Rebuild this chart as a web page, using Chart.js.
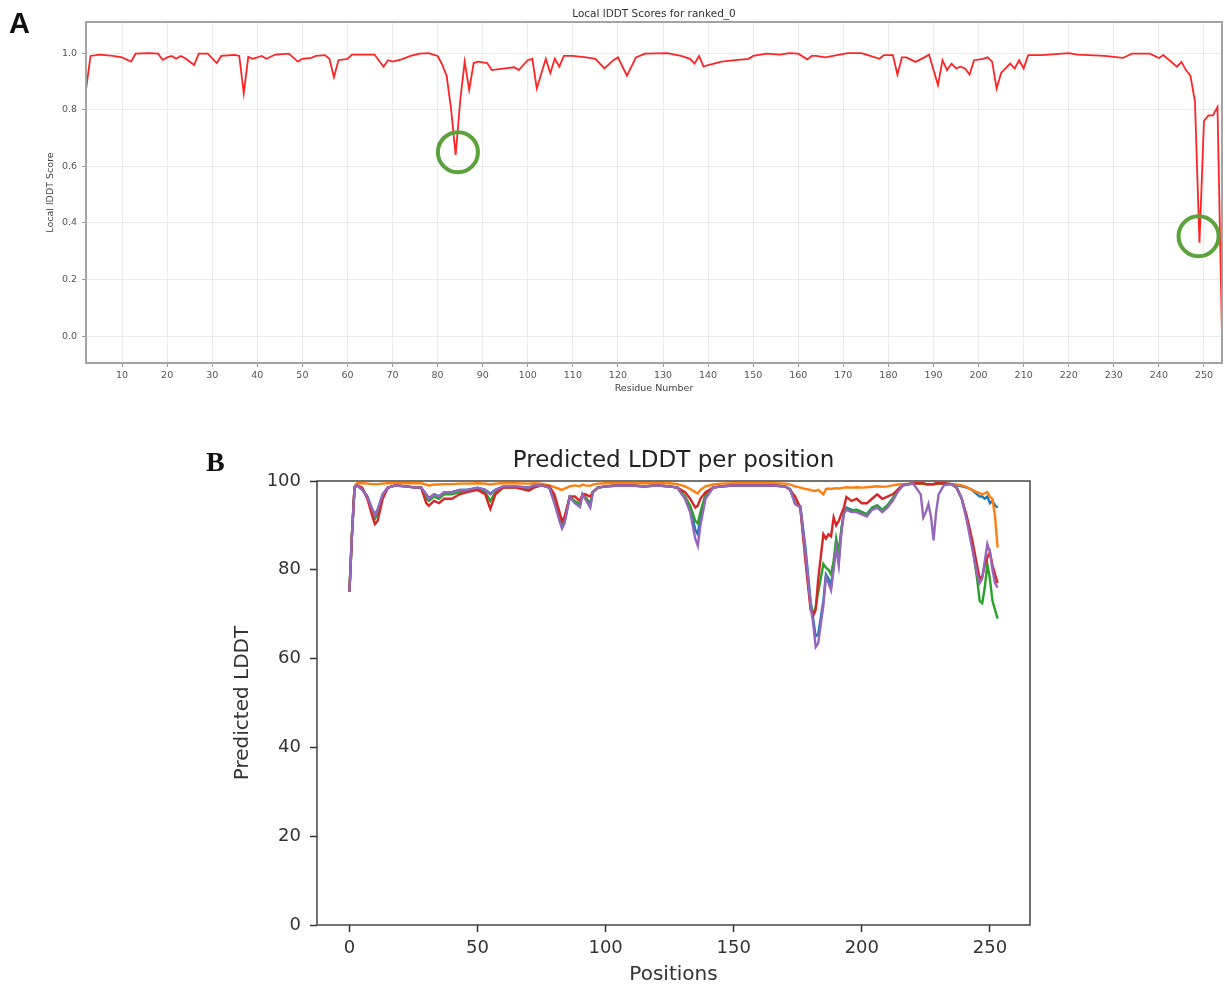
<!DOCTYPE html>
<html>
<head>
<meta charset="utf-8">
<script src="https://cdn.jsdelivr.net/npm/chart.js@4.4.1/dist/chart.umd.min.js"></script>
<style>
  body{margin:0;background:#fff;width:1225px;height:987px;position:relative;overflow:hidden}
  canvas{position:absolute}
  .tag{position:absolute;font-weight:bold;line-height:1;color:#111}
</style>
</head>
<body>
<canvas id="chartA" width="1250" height="404" style="left:0;top:-4px"></canvas>
<canvas id="chartB" width="860" height="547" style="left:200px;top:440px"></canvas>
<div class="tag" style="left:9px;top:9px;font-family:'Liberation Sans';font-size:29px">A</div>
<div class="tag" style="left:206px;top:448px;font-family:'Liberation Serif';font-size:28px">B</div>
<script>
// panel A: local lDDT of ranked_0
const residuesA = [
  2,3,5,8,10,12,13,16,18,19,
  20,21,22,23,24,26,27,29,31,32,
  35,36,37,38,39,41,42,44,47,49,
  50,52,53,55,56,57,58,60,61,66,
  68,69,70,72,74,76,78,80,81,82,
  83,84,85,86,87,88,89,91,92,95,
  97,98,99,100,101,102,104,105,106,107,
  108,110,113,115,117,119,120,122,124,126,
  131,134,136,137,138,139,140,143,146,149,
  150,153,156,158,160,162,163,164,166,171,
  174,176,178,179,181,182,183,184,186,188,
  189,191,192,193,194,195,196,197,198,199,
  201,202,203,204,205,207,208,209,210,211,
  214,220,222,228,232,234,238,240,241,244,
  245,246,247,248,249,250,251,252,253,254
]
const scoresA = [
  0.87,0.99,0.995,0.99,0.985,0.97,0.998,1.0,0.998,0.976,
  0.985,0.99,0.98,0.99,0.982,0.958,0.998,0.998,0.965,0.99,
  0.994,0.99,0.858,0.987,0.98,0.99,0.98,0.995,0.998,0.97,
  0.98,0.983,0.99,0.993,0.98,0.915,0.975,0.98,0.995,0.995,
  0.952,0.975,0.97,0.978,0.99,0.998,1.0,0.99,0.96,0.92,
  0.80,0.64,0.83,0.97,0.87,0.965,0.97,0.965,0.94,0.946,
  0.95,0.94,0.958,0.975,0.98,0.875,0.98,0.93,0.98,0.952,
  0.99,0.99,0.985,0.98,0.946,0.975,0.985,0.92,0.985,0.998,
  1.0,0.99,0.98,0.963,0.99,0.952,0.958,0.97,0.975,0.98,
  0.99,0.998,0.995,1.0,0.998,0.978,0.99,0.99,0.985,1.0,
  1.0,0.99,0.98,0.993,0.993,0.924,0.985,0.985,0.969,0.985,
  0.995,0.887,0.975,0.94,0.963,0.946,0.952,0.946,0.924,0.975,
  0.98,0.985,0.97,0.875,0.93,0.963,0.946,0.975,0.946,0.993,
  0.993,1.0,0.995,0.99,0.983,0.998,0.998,0.983,0.993,0.952,
  0.969,0.94,0.92,0.83,0.33,0.76,0.78,0.78,0.81,0.0
]
const circleResidues = [84.5, 248.8]
const circleScores = [0.65, 0.353]
const residueTicks = [10,20,30,40,50,60,70,80,90,100,110,120,130,140,150,160,170,180,190,200,210,220,230,240,250]
const scoreTicks = [0, 0.2, 0.4, 0.6, 0.8, 1.0]

// panel B: predicted LDDT per position, five models
const positionsB = [
  0,1,2,3,5,7,9,10,11,13,
  15,18,22,26,28,30,31,33,35,37,
  40,43,46,50,53,55,57,60,65,70,
  72,75,78,80,82,83,84,86,88,90,
  91,92,94,95,97,100,105,110,115,120,
  125,128,131,133,135,136,137,139,142,145,
  150,155,160,165,170,172,174,176,178,180,
  181,182,183,185,186,187,188,189,190,191,
  192,193,194,196,198,200,202,204,206,208,
  210,212,214,216,220,223,224,225,226,227,
  228,229,230,232,235,237,239,241,243,245,
  246,247,248,249,250,251,252,253
]
const model1 = [
  75,88,98.5,99,98,96.5,93.5,92.5,93.5,97,
  98.5,99,98.8,98.5,98.5,97,96.2,97,96.6,97.5,
  97.5,98,98,98.5,98,97.2,98,98.8,98.8,98.5,
  99,99,98.5,95.5,91.5,90,91,96.4,95.2,94.5,
  97,96.2,94.5,97.5,98.5,98.8,99,99,98.8,99,
  98.8,98.5,96.3,94,89,88,92,96.5,98.5,98.8,
  99,99,99,99,98.8,98.2,95,94.3,85,73,
  69,65,65.5,73,79,78,76.5,81,86,82,
  89,93,94,93.5,93.5,93,92.5,94,94.5,93.5,
  94.5,96,98,99,99.5,99.5,99.4,99.3,99.3,99.3,
  99.3,99.4,99.4,99.4,99.3,99,98.8,98.5,98,97,
  96.5,96.5,96,96.5,95,95.5,94.5,94
]
const model2 = [
  75,88,98.8,99.5,99.5,99.4,99.3,99.3,99.3,99.4,
  99.5,99.5,99.5,99.5,99.5,99.2,99,99.2,99.2,99.3,
  99.3,99.4,99.4,99.5,99.4,99.2,99.4,99.5,99.5,99.4,
  99.5,99.4,99,98.6,98.2,98,98.3,98.8,99,98.8,
  99.2,99,98.9,99.2,99.4,99.5,99.5,99.5,99.5,99.5,
  99.5,99.3,98.8,98.2,97.5,97.2,98,98.8,99.2,99.4,
  99.5,99.5,99.5,99.5,99.4,99.2,98.8,98.5,98.2,98,
  97.8,97.8,98,97,98.2,98.3,98.2,98.3,98.4,98.3,
  98.4,98.5,98.6,98.5,98.6,98.5,98.6,98.7,98.8,98.7,
  98.8,99,99.2,99.3,99.4,99.4,99.3,99.3,99.2,99.2,
  99.2,99.3,99.3,99.4,99.3,99.2,99,98.6,98,97.5,
  97.3,97,97.2,97.5,96.5,96,92,85
]
const model3 = [
  75,88,98.5,99,98.3,96.5,93,91.5,92.5,96.5,
  98.5,99,98.8,98.5,98.5,96,95.5,96.5,96,97,
  97,97.5,98,98.3,97.5,95.5,97.5,98.6,98.6,98.2,
  98.8,99,98.6,96,92,90.5,91.5,96.4,95.5,94.8,
  97,96.5,95,97.5,98.5,98.8,99,99,98.8,99,
  98.8,98.5,96.5,94.5,91,90.5,93,97,98.5,98.8,
  99,99,99,99,98.8,98.1,95,94,83,72,
  70,71.6,75,81.3,80.5,80,79,82,87,84,
  89,92.8,93.8,93.2,93.5,93,92.5,94,94.5,93.5,
  94.5,96,98,99,99.5,99.5,99.4,99.3,99.3,99.3,
  99.3,99.4,99.4,99.4,99.3,98.5,96,91.5,86,78,
  73,72.5,76,81.3,78,73,71,69
]
const model4 = [
  75,88,98.5,99,98.5,96,92,90.3,91,96,
  98.5,99,98.8,98.5,98.5,95,94.4,95.5,95,96,
  96,97,97.5,98,97,93.7,97,98.5,98.5,97.8,
  98.5,99,98.8,97,93,91,92,96.5,96.5,95.5,
  97,97,96.5,97.5,98.5,98.8,99,99,98.8,99,
  98.8,98.5,97.5,96,94,94.5,96,97.5,98.5,98.8,
  99,99,99,99,98.8,98,96.5,94,82,71,
  69.6,71,78,88,87,88,87.5,91.8,90,91,
  92.6,94,96.4,95.5,96,95,95,96,97,96,
  96.5,97,98,99,99.5,99.5,99.5,99.3,99.3,99.3,
  99.3,99.5,99.5,99.5,99.3,98.5,96,92,87,81,
  78,78.5,81,82.8,84,81,79,77
]
const model5 = [
  75,88,98.5,99,98,96.5,93.5,92.2,93.5,97,
  98.5,99,98.8,98.5,98.5,97,96,97,96.5,97.5,
  97.5,98,98,98.5,98,97,98,98.8,98.8,98.5,
  99,99,98.5,95,91,89.3,90.5,96.4,95,94.1,
  97,96,94,97.5,98.5,98.8,99,99,98.8,99,
  98.8,98.5,96,93,87,85.4,90,96,98.5,98.8,
  99,99,99,99,98.8,98.2,94.8,94.1,84,72,
  68,62.6,63.5,72,78.4,77,75.4,80,85,81,
  88,92.6,93.5,93,93,92.5,92,93.5,94,93,
  94,95.5,97.5,99,99.5,97,91.8,93,94.8,92,
  86.6,93,97,99,99.3,98.5,96,91,85,79,
  77,78,82,85.8,84,80,77,76
]
const positionTicks = [0,50,100,150,200,250]
const plddtTicks = [0,20,40,60,80,100]

const font = 'DejaVu Sans'
const points = (xs, ys) => xs.map((x, i) => ({x: x, y: ys[i]}))
const setTicks = arr => scale => { scale.ticks = arr.map(v => ({value: v})) }
const fixWidth = w => scale => { scale.width = w }
const fixHeight = h => scale => { scale.height = h }

const framePlugin = {
  id: 'frame',
  afterDraw(chart, args, opts){
    const {ctx, chartArea} = chart
    ctx.save()
    ctx.strokeStyle = opts.color
    ctx.lineWidth = opts.width
    ctx.strokeRect(chartArea.left, chartArea.top, chartArea.right - chartArea.left, chartArea.bottom - chartArea.top)
    ctx.restore()
  }
}

new Chart(document.getElementById('chartA'), {
  type: 'line',
  data: {
    datasets: [
      {
        label: 'highlight',
        data: points(circleResidues, circleScores),
        showLine: false,
        pointRadius: 20,
        pointHoverRadius: 20,
        pointBorderWidth: 4,
        pointBorderColor: '#5ba13c',
        pointBackgroundColor: 'rgba(0,0,0,0)',
        order: 0
      },
      {
        label: 'ranked_0',
        data: points(residuesA, scoresA),
        borderColor: '#ff2424',
        borderWidth: 1.8,
        pointRadius: 0,
        tension: 0,
        order: 1
      }
    ]
  },
  options: {
    responsive: false,
    animation: false,
    layout: {padding: {left: 0, right: 28, top: 0, bottom: 0}},
    plugins: {
      legend: {display: false},
      tooltip: {enabled: false},
      title: {
        display: true, fullSize: false,
        text: 'Local lDDT Scores for ranked_0',
        color: '#333',
        font: {family: font, size: 10.5, weight: 'normal'},
        padding: {top: 11.7, bottom: 1.7}
      },
      frame: {color: '#a3a3a3', width: 2}
    },
    scales: {
      x: {
        type: 'linear', min: 2, max: 254,
        afterBuildTicks: setTicks(residueTicks),
        afterFit: fixHeight(37),
        border: {display: false},
        grid: {color: '#ececec', tickColor: '#999', tickLength: 4},
        ticks: {color: '#555', font: {family: font, size: 9.5}, padding: 2.5, maxRotation: 0, autoSkip: false},
        title: {display: true, text: 'Residue Number', color: '#444', font: {family: font, size: 9.5}, padding: {top: 0, bottom: 5.3}}
      },
      y: {
        min: -0.095, max: 1.11,
        afterBuildTicks: setTicks(scoreTicks),
        afterFit: fixWidth(86),
        border: {display: false},
        grid: {color: '#ececec', tickColor: '#999', tickLength: 4},
        ticks: {color: '#555', font: {family: font, size: 9.5}, padding: 5, callback: v => v.toFixed(1)},
        title: {display: true, text: 'Local lDDT Score', color: '#444', font: {family: font, size: 9.5}, padding: {top: 45.3, bottom: 0}}
      }
    }
  },
  plugins: [framePlugin]
})

const lineB = (label, values, color, order) => ({
  label: label,
  data: points(positionsB, values),
  borderColor: color,
  borderWidth: 2.4,
  pointRadius: 0,
  tension: 0,
  order: order
})

new Chart(document.getElementById('chartB'), {
  type: 'line',
  data: {
    datasets: [
      lineB('model_1', model1, '#1f77b4', 4),
      lineB('model_2', model2, '#ff7f0e', 3),
      lineB('model_3', model3, '#2ca02c', 2),
      lineB('model_4', model4, '#d62728', 1),
      lineB('model_5', model5, '#9467bd', 0)
    ]
  },
  options: {
    responsive: false,
    animation: false,
    layout: {padding: {left: 0, right: 30, top: 0, bottom: 0}},
    plugins: {
      legend: {display: false},
      tooltip: {enabled: false},
      title: {
        display: true, fullSize: false,
        text: 'Predicted LDDT per position',
        color: '#222',
        font: {family: font, size: 23, weight: 'normal'},
        padding: {top: 7, bottom: 6.4}
      },
      frame: {color: '#444', width: 1.5}
    },
    scales: {
      x: {
        type: 'linear', min: -12.65, max: 265.65,
        afterBuildTicks: setTicks(positionTicks),
        afterFit: fixHeight(62),
        border: {display: false},
        grid: {display: true, drawOnChartArea: false, tickColor: '#333', tickLength: 7, tickWidth: 1.5},
        ticks: {color: '#333', font: {family: font, size: 18}, padding: 6, maxRotation: 0, autoSkip: false},
        title: {display: true, text: 'Positions', color: '#333', font: {family: font, size: 20}, padding: {top: 0, bottom: 0}}
      },
      y: {
        min: 0, max: 100,
        afterBuildTicks: setTicks(plddtTicks),
        afterFit: fixWidth(117),
        border: {display: false},
        grid: {display: true, drawOnChartArea: false, tickColor: '#333', tickLength: 7, tickWidth: 1.5},
        ticks: {color: '#333', font: {family: font, size: 18}, padding: 9},
        title: {display: true, text: 'Predicted LDDT', color: '#333', font: {family: font, size: 20}, padding: {top: 31, bottom: 0}}
      }
    }
  },
  plugins: [framePlugin]
})
</script>
</body>
</html>
